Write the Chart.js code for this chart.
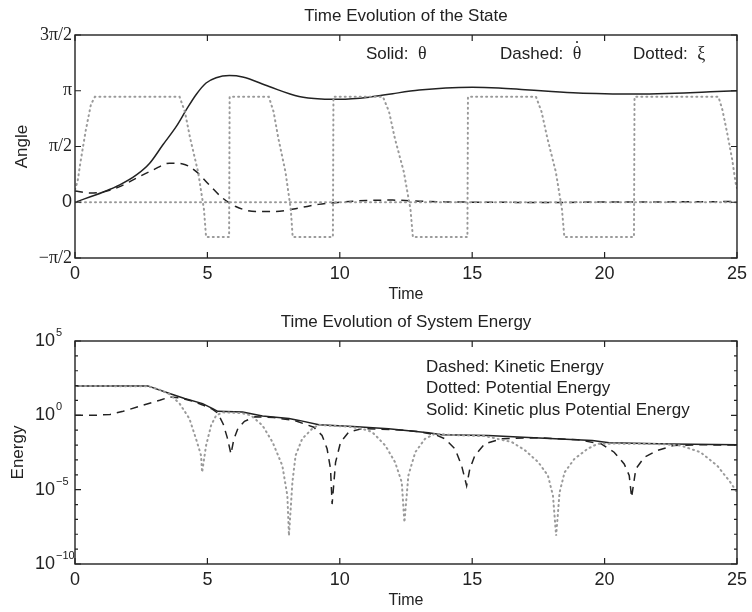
<!DOCTYPE html>
<html>
<head>
<meta charset="utf-8">
<script src="https://cdn.jsdelivr.net/npm/chart.js@4.4.1/dist/chart.umd.min.js"></script>
<style>
  body { margin: 0; background: #fff; }
  #page { position: relative; width: 752px; height: 612px; font-family: "Liberation Sans", Arial, sans-serif; color: #222; }
  .box { position: absolute; left: 0; width: 752px; height: 306px; }
  .note { position: absolute; font-size: 17px; line-height: 20px; white-space: pre; }
  .sym { font-family: "Liberation Serif", "DejaVu Serif", serif; font-size: 18px; position: relative; }
  .dot { position: absolute; left: 0; width: 100%; text-align: center; top: -0.28em; }
</style>
</head>
<body>
<div id="page">
  <div class="box" style="top:0"><canvas id="stateChart" width="752" height="306"></canvas></div>
  <div class="box" style="top:306px"><canvas id="energyChart" width="752" height="306"></canvas></div>

  <div class="note" style="left:366px; top:43px">Solid:  <span class="sym">θ</span></div>
  <div class="note" style="left:500px; top:43px">Dashed:  <span class="sym">θ<span class="dot">˙</span></span></div>
  <div class="note" style="left:633px; top:43px">Dotted:  <span class="sym">ξ</span></div>

  <div class="note" style="left:426px; top:357px">Dashed: Kinetic Energy</div>
  <div class="note" style="left:426px; top:378px">Dotted: Potential Energy</div>
  <div class="note" style="left:426px; top:400px">Solid: Kinetic plus Potential Energy</div>
</div>

<script>
// --- top plot: state (angles in rad) ---
const thetaTime = [0, 1.07, 1.69, 2.32, 2.82, 3.32, 3.82, 4.2, 4.57, 4.95, 5.33, 5.83, 6.33, 7.33, 8.46, 9.3, 10.0, 11.1, 12, 13, 14, 15, 16, 17, 18, 19, 20, 21, 22, 23, 24, 25];
const theta = [0, 0.29, 0.49, 0.77, 1.10, 1.62, 2.13, 2.60, 3.03, 3.36, 3.51, 3.57, 3.53, 3.26, 2.98, 2.91, 2.90, 2.96, 3.06, 3.16, 3.22, 3.24, 3.22, 3.17, 3.12, 3.08, 3.06, 3.05, 3.06, 3.08, 3.11, 3.14];

const thetaDotTime = [0, 0.56, 1.07, 1.69, 2.32, 2.95, 3.57, 4.07, 4.57, 5.07, 5.57, 6.07, 6.82, 7.58, 8.46, 9.2, 10, 11, 12, 13, 14, 16, 18, 20, 22, 25];
const thetaDot = [0.32, 0.26, 0.29, 0.44, 0.68, 0.91, 1.10, 1.08, 0.87, 0.49, 0.12, -0.12, -0.26, -0.26, -0.16, -0.06, 0.0, 0.05, 0.06, 0.03, 0.01, 0.0, -0.01, 0.01, 0.01, 0.02];

const xiTime = [0, 0.1, 0.2, 0.4, 0.6, 0.75,
  3.95, 4.15, 4.35, 4.65, 4.87, 4.95, 5.82, 5.84,
  7.32, 7.5, 7.68, 7.95, 8.15, 8.22, 9.74, 9.76,
  11.63, 11.86, 12.08, 12.42, 12.67, 12.76, 14.82, 14.84,
  17.41, 17.62, 17.84, 18.16, 18.39, 18.48, 21.11, 21.13,
  24.3, 24.45, 24.63, 24.82, 24.95, 25];
const xi = [0.35, 0.6, 1.1, 2.0, 2.75, 2.97,
  2.97, 2.55, 1.8, 0.85, -0.2, -0.98, -0.98, 2.97,
  2.97, 2.55, 1.8, 0.85, -0.2, -0.98, -0.98, 2.97,
  2.97, 2.55, 1.8, 0.85, -0.2, -0.98, -0.98, 2.97,
  2.97, 2.55, 1.8, 0.85, -0.2, -0.98, -0.98, 2.97,
  2.97, 2.6, 1.95, 1.2, 0.54, 0.4];

const zeroTime = [0, 25];
const zeroLine = [0, 0];

const angleTicks = [-Math.PI / 2, 0, Math.PI / 2, Math.PI, 3 * Math.PI / 2];
const angleTickLabels = ['\u2212\u03c0/2', '0', '\u03c0/2', '\u03c0', '3\u03c0/2'];

// --- bottom plot: energy, stored as log10 of the value ---
const totalTime = [0, 2.75, 3.57, 4.14, 4.82, 5.2, 5.39, 6.33, 7.08, 8.08, 8.46, 9.21, 10.5, 11.84, 13.35, 13.85, 15.6, 16.73, 19.54, 20.17, 22.5, 25];
const totalLog = [1.98, 1.98, 1.47, 1.13, 0.79, 0.45, 0.27, 0.22, -0.05, -0.22, -0.34, -0.63, -0.75, -0.9, -1.17, -1.31, -1.35, -1.46, -1.69, -1.85, -1.92, -1.98];

const kineticTime = [0, 0.75, 1.32, 1.82, 2.57, 3.2, 3.57, 3.95, 4.45, 4.82, 5.2, 5.39, 5.6, 5.75, 5.89, 6.0, 6.15, 6.4, 6.8, 7.5, 8.3, 9.02, 9.33, 9.52, 9.65, 9.71, 9.84, 10.03, 10.34, 10.84, 12, 13.0, 13.6, 13.97, 14.35, 14.6, 14.79, 14.91, 15.1, 15.48, 16.1, 17.5, 19.0, 19.86, 20.36, 20.74, 20.93, 21.02, 21.18, 21.5, 22.0, 22.6, 23.5, 25];
const kineticLog = [0, 0, 0.06, 0.27, 0.68, 1.01, 1.24, 1.17, 0.95, 0.7, 0.4, 0.15, -0.6, -1.5, -2.6, -1.6, -0.9, -0.4, -0.1, -0.15, -0.35, -0.8, -1.35, -2.25, -3.6, -5.97, -3.16, -1.8, -1.12, -0.9, -0.95, -1.1, -1.3, -1.58, -2.25, -3.38, -4.73, -3.6, -2.7, -1.91, -1.58, -1.5, -1.65, -1.91, -2.48, -3.27, -4.05, -5.52, -3.6, -2.82, -2.36, -2.03, -1.98, -2.0];

const potentialTime = [0, 2.75, 3.2, 3.57, 3.95, 4.32, 4.57, 4.76, 4.8, 4.95, 5.14, 5.33, 5.6, 6.3, 6.64, 7.08, 7.46, 7.83, 8.02, 8.08, 8.21, 8.33, 8.58, 8.96, 9.21, 9.6, 10.3, 10.84, 11.22, 11.72, 12.09, 12.34, 12.44, 12.59, 12.85, 13.22, 13.6, 14.2, 15.5, 16.5, 17.0, 17.5, 17.86, 18.05, 18.17, 18.3, 18.49, 18.86, 19.36, 19.74, 20.5, 21.5, 22.3, 22.87, 23.62, 24.25, 24.75, 25];
const potentialLog = [1.97, 1.96, 1.72, 1.42, 0.79, -0.22, -1.58, -2.7, -3.83, -2.03, -0.68, 0, 0.2, 0.15, 0, -0.68, -1.8, -3.38, -5.4, -8.1, -4.5, -2.7, -1.58, -0.9, -0.63, -0.7, -0.75, -0.9, -1.12, -2.03, -3.16, -4.5, -7.2, -4.05, -2.48, -1.58, -1.24, -1.32, -1.4, -1.8, -2.36, -3.16, -4.05, -5.4, -8.1, -5.18, -3.83, -2.93, -2.25, -1.91, -1.9, -1.92, -1.95, -2.03, -2.48, -3.38, -4.5, -5.18];

const energyTicks = [1e-10, 1e-5, 1, 1e5];
const energyTickBase = ['10', '10', '10', '10'];
const energyTickExponents = ['\u221210', '\u22125', '0', '5'];
const energyMinorTicks = [1e-9, 1e-8, 1e-7, 1e-6, 1e-4, 1e-3, 1e-2, 1e-1, 10, 100, 1e3, 1e4];

const INK = '#222';
const GREY = '#9a9a9a';
const SANS = '"Liberation Sans", Arial, sans-serif';
const SERIF = '"Liberation Serif", "Times New Roman", serif';

function pts(xs, ys) {
  return xs.map((t, i) => ({ x: t, y: ys[i] }));
}
function logPts(xs, ys) {
  return xs.map((t, i) => ({ x: t, y: Math.pow(10, ys[i]) }));
}

// box round the plot and inward ticks, matlab style
const frameTicks = {
  id: 'frameTicks',
  afterDraw(chart, args, opts) {
    const { ctx, chartArea: a, scales: { x, y } } = chart;
    ctx.save();
    ctx.strokeStyle = INK;
    ctx.lineWidth = 1.4;
    ctx.strokeRect(a.left, a.top, a.right - a.left, a.bottom - a.top);
    ctx.lineWidth = 1.2;
    ctx.beginPath();
    x.ticks.forEach(t => {
      const px = x.getPixelForValue(t.value);
      ctx.moveTo(px, a.bottom); ctx.lineTo(px, a.bottom - 6);
      ctx.moveTo(px, a.top); ctx.lineTo(px, a.top + 6);
    });
    y.ticks.forEach(t => {
      const py = y.getPixelForValue(t.value);
      ctx.moveTo(a.left, py); ctx.lineTo(a.left + 6, py);
      ctx.moveTo(a.right, py); ctx.lineTo(a.right - 6, py);
    });
    (opts.minor || []).forEach(v => {
      const py = y.getPixelForValue(v);
      ctx.moveTo(a.left, py); ctx.lineTo(a.left + 3, py);
      ctx.moveTo(a.right, py); ctx.lineTo(a.right - 3, py);
    });
    ctx.stroke();

    // raised exponents next to the "10" tick labels
    if (opts.exponents) {
      ctx.fillStyle = INK;
      ctx.font = '11px ' + SANS;
      ctx.textAlign = 'left';
      ctx.textBaseline = 'middle';
      y.ticks.forEach((t, i) => {
        const py = y.getPixelForValue(t.value);
        ctx.fillText(opts.exponents[i], a.left - 19, py - 8);
      });
    }
    ctx.restore();
  }
};

function baseOptions(title, yTitle, yTitlePad) {
  return {
    responsive: false,
    animation: false,
    layout: { padding: { left: 0, right: 14, top: 0, bottom: 0 } },
    elements: { point: { radius: 0 } },
    plugins: {
      legend: { display: false },
      tooltip: { enabled: false },
      title: {
        display: true, text: title, fullSize: false, color: INK,
        font: { family: SANS, size: 17, weight: 'normal' },
        padding: { top: 6, bottom: 8.6 }
      }
    },
    scales: {
      x: {
        type: 'linear', min: 0, max: 25,
        grid: { display: false, drawTicks: false }, border: { display: false },
        ticks: { stepSize: 5, padding: 5, color: INK, font: { family: SANS, size: 18 } },
        title: { display: true, text: 'Time', color: INK, font: { family: SANS, size: 16 }, padding: { top: 0, bottom: 2 } },
        afterFit: s => { s.height = 48; }
      },
      y: {
        grid: { display: false, drawTicks: false }, border: { display: false },
        title: { display: true, text: yTitle, color: INK, font: { family: SANS, size: 17 }, padding: { top: yTitlePad, bottom: 0 } },
        afterFit: s => { s.width = 75; }
      }
    }
  };
}

// top chart
const stateOpts = baseOptions('Time Evolution of the State', 'Angle', 12);
Object.assign(stateOpts.scales.y, {
  type: 'linear', min: -Math.PI / 2, max: 3 * Math.PI / 2,
  afterBuildTicks: s => { s.ticks = angleTicks.map(v => ({ value: v })); },
  ticks: {
    padding: 3, color: INK,
    callback: (v, i) => angleTickLabels[i],
    font: c => (c.index !== undefined && angleTickLabels[c.index] !== '0')
      ? { family: SERIF, size: 18 } : { family: SANS, size: 18 }
  }
});

new Chart(document.getElementById('stateChart'), {
  type: 'line',
  data: {
    datasets: [
      { data: pts(zeroTime, zeroLine), borderColor: GREY, borderWidth: 2, borderDash: [1, 4], borderCapStyle: 'round', tension: 0 },
      { data: pts(xiTime, xi), borderColor: GREY, borderWidth: 2, borderDash: [1, 4], borderCapStyle: 'round', tension: 0 },
      { data: pts(thetaDotTime, thetaDot), borderColor: INK, borderWidth: 1.5, borderDash: [8, 6], cubicInterpolationMode: 'monotone' },
      { data: pts(thetaTime, theta), borderColor: INK, borderWidth: 1.5, cubicInterpolationMode: 'monotone' }
    ]
  },
  options: stateOpts,
  plugins: [frameTicks]
});

// bottom chart
const energyOpts = baseOptions('Time Evolution of System Energy', 'Energy', 8.3);
Object.assign(energyOpts.scales.y, {
  type: 'logarithmic', min: 1e-10, max: 1e5,
  afterBuildTicks: s => { s.ticks = energyTicks.map(v => ({ value: v })); },
  ticks: {
    padding: 20, color: INK,
    callback: (v, i) => energyTickBase[i],
    font: { family: SANS, size: 18 }
  }
});
energyOpts.plugins.frameTicks = { minor: energyMinorTicks, exponents: energyTickExponents };

new Chart(document.getElementById('energyChart'), {
  type: 'line',
  data: {
    datasets: [
      { data: logPts(potentialTime, potentialLog), borderColor: GREY, borderWidth: 2, borderDash: [1, 4], borderCapStyle: 'round', tension: 0 },
      { data: logPts(kineticTime, kineticLog), borderColor: INK, borderWidth: 1.5, borderDash: [8, 6], tension: 0 },
      { data: logPts(totalTime, totalLog), borderColor: INK, borderWidth: 1.5, tension: 0 }
    ]
  },
  options: energyOpts,
  plugins: [frameTicks]
});
</script>
</body>
</html>
